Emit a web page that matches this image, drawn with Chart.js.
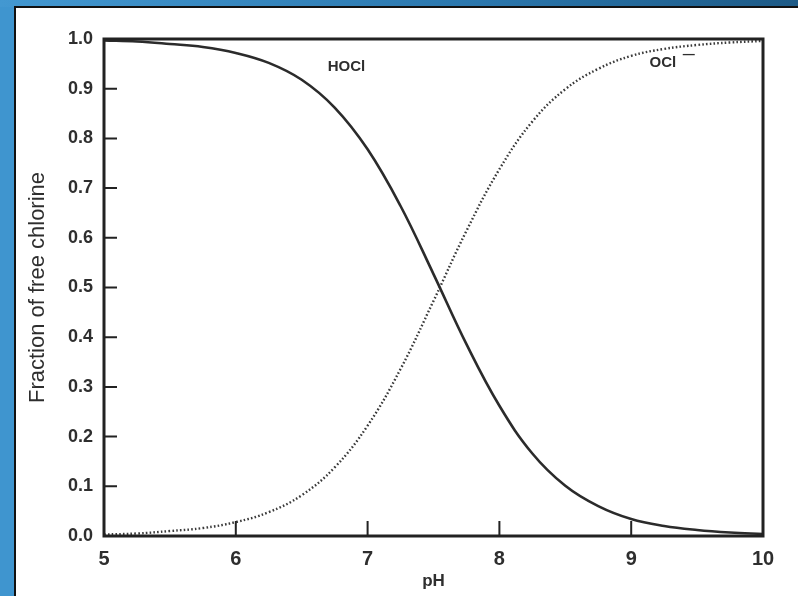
<!DOCTYPE html>
<html>
<head>
<meta charset="utf-8">
<script src="https://cdn.jsdelivr.net/npm/chart.js"></script>
<style>
  html, body { margin: 0; padding: 0; }
  body { width: 798px; height: 596px; background: #3f95cf; position: relative; overflow: hidden; }
  #topStrip { position: absolute; left: 0; top: 0; width: 798px; height: 7px;
    background: linear-gradient(to right, #4398d1, #2b77ad 60%, #1d5a86); }
  #panel { position: absolute; left: 14px; top: 6px; width: 784px; height: 590px;
    background: #fff; border-left: 2px solid #111; border-top: 2px solid #111; box-sizing: border-box; }
  canvas { position: absolute; left: 0; top: 0; }
</style>
</head>
<body>
<div id="topStrip"></div>
<div id="panel"></div>
<canvas id="chart" width="798" height="596"></canvas>
<script>
// --- data ---
const phValues = [5, 5.25, 5.5, 5.75, 6, 6.25, 6.5, 6.75, 7, 7.25, 7.5, 7.75, 8, 8.25, 8.5, 8.75, 9, 9.25, 9.5, 9.75, 10];
const hoclFraction = [0.997, 0.995, 0.99, 0.984, 0.972, 0.952, 0.918, 0.862, 0.778, 0.664, 0.527, 0.386, 0.262, 0.166, 0.101, 0.060, 0.034, 0.020, 0.012, 0.007, 0.004];
const oclFraction = [0.003, 0.005, 0.01, 0.016, 0.028, 0.048, 0.082, 0.138, 0.222, 0.336, 0.473, 0.614, 0.738, 0.834, 0.899, 0.940, 0.966, 0.980, 0.988, 0.993, 0.996];
const xTicks = [5, 6, 7, 8, 9, 10];
const yTicks = [0, 0.1, 0.2, 0.3, 0.4, 0.5, 0.6, 0.7, 0.8, 0.9, 1.0];

const ink = "#2e2e2e";
const fontFamily = "'Liberation Sans', Arial, sans-serif";

// box frame, inward tick marks and curve labels
const frameAndLabels = {
  id: "frameAndLabels",
  afterDatasetsDraw(chart) {
    const { ctx, chartArea, scales } = chart;
    const xs = scales.x, ys = scales.y;
    ctx.save();
    ctx.strokeStyle = "#222";
    ctx.lineWidth = 3;
    ctx.strokeRect(chartArea.left, chartArea.top, chartArea.right - chartArea.left, chartArea.bottom - chartArea.top);

    ctx.lineWidth = 2;
    ctx.beginPath();
    xTicks.slice(1, -1).forEach((v) => {
      const px = xs.getPixelForValue(v);
      ctx.moveTo(px, chartArea.bottom);
      ctx.lineTo(px, chartArea.bottom - 15);
    });
    yTicks.slice(1, -1).forEach((v) => {
      const py = ys.getPixelForValue(v);
      ctx.moveTo(chartArea.left, py);
      ctx.lineTo(chartArea.left + 13, py);
    });
    ctx.stroke();

    ctx.fillStyle = ink;
    ctx.font = "bold 15px " + fontFamily;
    ctx.textAlign = "center";
    ctx.textBaseline = "middle";
    ctx.fillText("HOCl", xs.getPixelForValue(6.84), ys.getPixelForValue(0.944));
    const ox = xs.getPixelForValue(9.24), oy = ys.getPixelForValue(0.952);
    ctx.fillText("OCl", ox, oy);
    ctx.font = "bold 12px " + fontFamily;
    ctx.fillText("\u2014", ox + 26, oy - 8);
    ctx.restore();
  },
};

new Chart(document.getElementById("chart"), {
  type: "line",
  data: {
    labels: phValues,
    datasets: [
      {
        label: "HOCl",
        data: phValues.map((x, i) => ({ x, y: hoclFraction[i] })),
        borderColor: "#2b2b2b",
        borderWidth: 2.6,
        pointRadius: 0,
        tension: 0.4,
        fill: false,
      },
      {
        label: "OCl-",
        data: phValues.map((x, i) => ({ x, y: oclFraction[i] })),
        borderColor: "#3a3a3a",
        borderWidth: 2.4,
        borderDash: [1.6, 2.2],
        pointRadius: 0,
        tension: 0.4,
        fill: false,
      },
    ],
  },
  options: {
    responsive: false,
    animation: false,
    layout: { padding: { left: 0, right: 35, top: 39, bottom: 0 } },
    plugins: { legend: { display: false }, tooltip: { enabled: false } },
    scales: {
      x: {
        type: "linear",
        min: 5,
        max: 10,
        afterFit: (s) => { s.height = 60; },
        afterBuildTicks: (s) => { s.ticks = xTicks.map((v) => ({ value: v })); },
        grid: { display: false, drawTicks: false },
        border: { display: false },
        ticks: { padding: 11, color: ink, font: { family: fontFamily, size: 20, weight: "bold" }, maxRotation: 0 },
        title: { display: true, text: "pH", color: ink, font: { family: fontFamily, size: 17, weight: "bold" }, padding: { top: 0, bottom: 4 } },
      },
      y: {
        min: 0,
        max: 1,
        afterFit: (s) => { s.width = 104; },
        afterBuildTicks: (s) => { s.ticks = yTicks.map((v) => ({ value: v })); },
        grid: { display: false, drawTicks: false },
        border: { display: false },
        ticks: { padding: 11, color: ink, font: { family: fontFamily, size: 18, weight: "bold" }, callback: (v) => v.toFixed(1) },
        title: { display: true, text: "Fraction of free chlorine", color: ink, font: { family: fontFamily, size: 22 }, padding: { top: 25, bottom: 0 } },
      },
    },
  },
  plugins: [frameAndLabels],
});
</script>
</body>
</html>
